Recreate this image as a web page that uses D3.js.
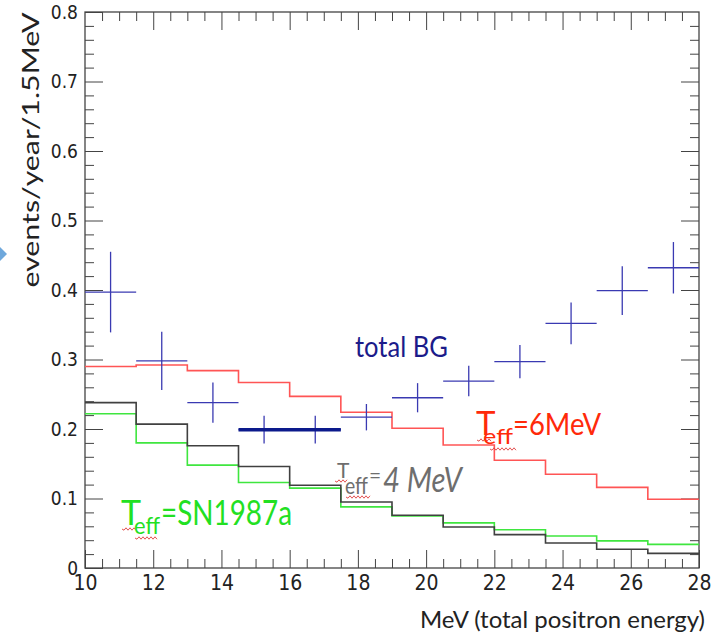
<!DOCTYPE html>
<html>
<head>
<meta charset="utf-8">
<script src="https://cdn.jsdelivr.net/npm/d3@7"></script>
<style>
  body { margin: 0; background: #fff; }
  .tick text { font-family: "Liberation Sans Narrow", "DejaVu Sans Condensed", "Liberation Sans", sans-serif; fill: #222; }
  .lbl { font-family: Lato, "Open Sans", sans-serif; }
</style>
</head>
<body>
<div id="chart"></div>
<script>
// bin edges (MeV), 1.5 MeV wide bins
const binEdges = [10, 11.5, 13, 14.5, 16, 17.5, 19, 20.5, 22, 23.5, 25, 26.5, 28];

// total background, value and error per bin
const bgValue = [0.397, 0.298, 0.238, 0.199, 0.199, 0.217, 0.245, 0.269, 0.297, 0.352, 0.399, 0.432];
const bgError = [0.058, 0.042, 0.029, 0.020, 0.020, 0.019, 0.021, 0.022, 0.024, 0.030, 0.035, 0.037];
const bgHighlight = [14.5, 17.5];
const bgHighlightValue = 0.199;

// signal spectra
const teff6 = [0.290, 0.292, 0.284, 0.267, 0.247, 0.224, 0.201, 0.177, 0.155, 0.135, 0.116, 0.099];
const teff4 = [0.238, 0.207, 0.176, 0.146, 0.119, 0.095, 0.076, 0.059, 0.048, 0.036, 0.027, 0.021];
const sn1987a = [0.222, 0.180, 0.148, 0.123, 0.115, 0.088, 0.075, 0.065, 0.055, 0.046, 0.039, 0.034];

// tick labels
const xTickLabels = [10, 12, 14, 16, 18, 20, 22, 24, 26, 28];
const yTickValues = [0, 0.1, 0.2, 0.3, 0.4, 0.5, 0.6, 0.7, 0.8];
const yTickLabels = ["0", "0.1", "0.2", "0.3", "0.4", "0.5", "0.6", "0.7", "0.8"];

const widthSvg = 713, heightSvg = 641;
const margin = {top: 12, right: 14, bottom: 73, left: 85};

const svg = d3.create("svg")
    .attr("width", widthSvg)
    .attr("height", heightSvg)
    .attr("viewBox", "0 0 " + widthSvg + " " + heightSvg);
d3.select("#chart").append(() => svg.node());

const x = d3.scaleLinear().domain([10, 28]).range([margin.left, widthSvg - margin.right]);
const y = d3.scaleLinear().domain([0, 0.8]).range([heightSvg - margin.bottom, margin.top]);

const frameColor = "#444";

// minor ticks (no labels)
function minorAxis(axis, ticks, size, tr) {
  svg.append("g")
    .attr("transform", tr)
    .call(axis.tickValues(ticks).tickSize(size).tickFormat(""))
    .call(g => g.select(".domain").remove())
    .call(g => g.selectAll("line").attr("stroke", frameColor));
}
const xMinor = d3.range(10.5, 28, 0.5).filter(v => v % 2 !== 0);
const yMinor = d3.range(0.02, 0.8, 0.02).filter(v => Math.abs(v * 10 - Math.round(v * 10)) > 0.01);

minorAxis(d3.axisBottom(x), xMinor, -9, "translate(0," + y(0) + ")");
minorAxis(d3.axisTop(x), xMinor, -9, "translate(0," + y(0.8) + ")");
minorAxis(d3.axisLeft(y), yMinor, -9, "translate(" + x(10) + ",0)");
minorAxis(d3.axisRight(y), yMinor, -9, "translate(" + x(28) + ",0)");

// major ticks
svg.append("g")
  .attr("transform", "translate(0," + y(0) + ")")
  .call(d3.axisBottom(x).tickValues(xTickLabels).tickSize(-18).tickPadding(7).tickFormat(d => d))
  .call(g => g.select(".domain").remove())
  .call(g => g.selectAll("line").attr("stroke", frameColor))
  .call(g => g.selectAll("text").attr("font-size", 21).attr("dy", "0.72em"));

svg.append("g")
  .attr("transform", "translate(0," + y(0.8) + ")")
  .call(d3.axisTop(x).tickValues(xTickLabels.slice(1, -1)).tickSize(-18).tickFormat(""))
  .call(g => g.select(".domain").remove())
  .call(g => g.selectAll("line").attr("stroke", frameColor));

svg.append("g")
  .attr("transform", "translate(" + x(10) + ",0)")
  .call(d3.axisLeft(y).tickValues(yTickValues).tickSize(-18).tickPadding(7)
        .tickFormat((d, i) => yTickLabels[i]))
  .call(g => g.select(".domain").remove())
  .call(g => g.selectAll("line").attr("stroke", frameColor))
  .call(g => g.selectAll("text").attr("font-size", 19));

svg.append("g")
  .attr("transform", "translate(" + x(28) + ",0)")
  .call(d3.axisRight(y).tickValues(yTickValues.slice(1, -1)).tickSize(-18).tickFormat(""))
  .call(g => g.select(".domain").remove())
  .call(g => g.selectAll("line").attr("stroke", frameColor));

// frame
svg.append("rect")
  .attr("x", x(10)).attr("y", y(0.8))
  .attr("width", x(28) - x(10)).attr("height", y(0) - y(0.8))
  .attr("fill", "none").attr("stroke", frameColor).attr("stroke-width", 1.3);

// histograms
const step = d3.line().curve(d3.curveStepAfter).x(d => x(d[0])).y(d => y(d[1]));
function hist(values, color) {
  const pts = binEdges.map((e, i) => [e, values[Math.min(i, values.length - 1)]]);
  svg.append("path")
    .attr("d", step(pts))
    .attr("fill", "none")
    .attr("stroke", color)
    .attr("stroke-width", 1.6);
}
hist(sn1987a, "#3fe63f");
hist(teff4, "#404040");
hist(teff6, "#ff5555");

// background crosses
const bg = svg.append("g").attr("stroke", "#3a3ab2").attr("stroke-width", 1.3);
bgValue.forEach((v, i) => {
  const c = (binEdges[i] + binEdges[i + 1]) / 2;
  bg.append("line")
    .attr("x1", x(binEdges[i])).attr("x2", x(binEdges[i + 1]))
    .attr("y1", y(v)).attr("y2", y(v));
  bg.append("line")
    .attr("x1", x(c)).attr("x2", x(c))
    .attr("y1", y(v + bgError[i])).attr("y2", y(v - bgError[i]));
});
svg.append("line")
  .attr("x1", x(bgHighlight[0])).attr("x2", x(bgHighlight[1]))
  .attr("y1", y(bgHighlightValue)).attr("y2", y(bgHighlightValue))
  .attr("stroke", "#0c1a8c").attr("stroke-width", 3.5);

// text helpers
function label(txt, px, py, size, color, len, extra) {
  const t = svg.append("text")
    .attr("class", "lbl")
    .attr("x", px).attr("y", py)
    .attr("font-size", size)
    .attr("fill", color)
    .text(txt);
  if (len) t.attr("textLength", len).attr("lengthAdjust", "spacingAndGlyphs");
  if (extra) extra(t);
  return t;
}
function wavy(x0, x1, yy) {
  let d = "M" + x0 + "," + yy;
  for (let xx = x0, k = 0; xx < x1; xx += 2, k++) {
    d += "L" + (xx + 2) + "," + (yy + (k % 2 ? -1.2 : 1.2));
  }
  svg.append("path").attr("d", d).attr("fill", "none")
    .attr("stroke", "#e04040").attr("stroke-width", 0.9);
}

// axis titles
svg.append("text")
  .attr("class", "lbl")
  .attr("transform", "translate(38.5,150) rotate(-90)")
  .attr("text-anchor", "middle")
  .attr("font-size", 23)
  .attr("fill", "#222")
  .attr("textLength", 275).attr("lengthAdjust", "spacingAndGlyphs")
  .text("events/year/1.5MeV");

label("MeV (total positron energy)", 420, 628, 24, "#222", 285);

// annotations
label("total BG", 355, 357, 29, "#1b1b8a", 93);

wavy(477, 490, 440); wavy(490, 516, 449);
label("T", 476, 435, 33, "#ff2a0a");
label("eff", 483, 444, 22, "#ff2a0a", 30);
label("=6MeV", 513, 435, 30, "#ff2a0a", 88);

wavy(335, 346, 481); wavy(346, 369, 497);
label("T", 337, 478, 21, "#6e6e6e");
label("eff", 345, 494, 23, "#6e6e6e", 23);
label("=", 369, 483, 21, "#6e6e6e");
label("4 MeV", 383, 492, 34, "#6e6e6e", 79, t => t.attr("font-style", "italic"));

wavy(122, 135, 529); wavy(135, 157, 538);
label("T", 121, 525, 34, "#22e022");
label("eff", 134, 534, 24, "#22e022", 26);
label("=SN1987a", 161, 525, 34, "#22e022", 131);

// small arrow mark at left edge
svg.append("polygon")
  .attr("points", "0,247 7,254 0,261")
  .attr("fill", "#6fa8dc");
</script>
</body>
</html>
